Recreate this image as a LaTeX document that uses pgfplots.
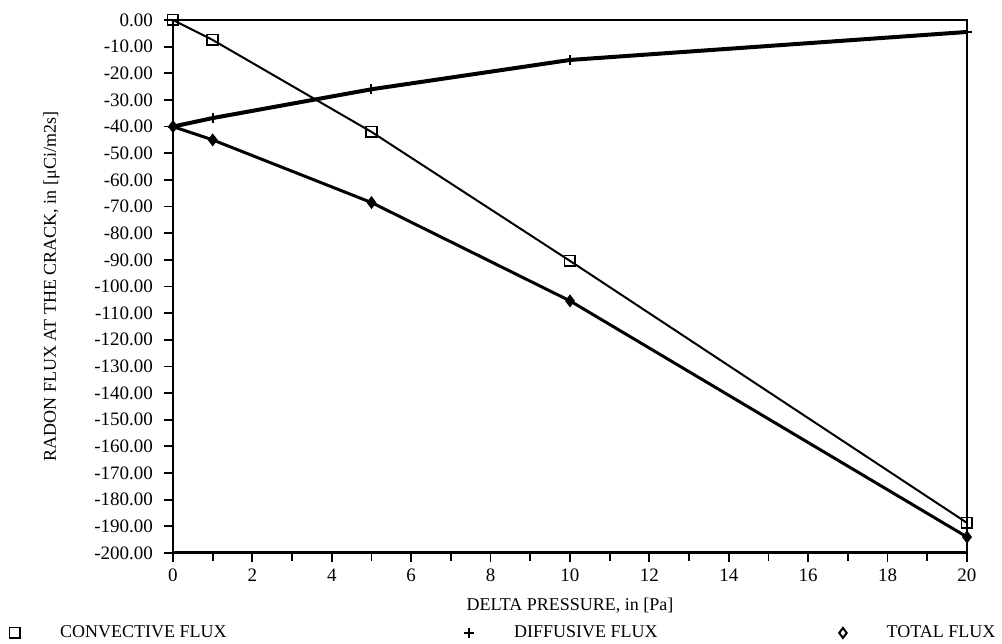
\documentclass[border=0pt]{standalone}
\usepackage{pgfplots}
\pgfplotsset{compat=1.18}
\usepackage{fontspec}
\setmainfont{Liberation Serif}
\begin{document}
\begin{tikzpicture}
\begin{axis}[
    name=ax, scale only axis,
    width=397pt, height=266.5pt,
    xmin=0, xmax=20, ymin=-200, ymax=0,
    xtick={0,2,...,20}, minor xtick={1,3,...,19},
    ytick={-200,-190,...,0},
    tick align=outside, tick pos=left,
    major tick length=4.5pt, minor tick length=4pt,
    every tick/.style={black, line width=0.9pt},
    /pgf/number format/assume math mode=true,
    yticklabel style={/pgf/number format/fixed, /pgf/number format/precision=2,
        /pgf/number format/fixed zerofill, xshift=-2pt},
    ticklabel style={font=\fontsize{9.5}{11}\selectfont},
    axis line style={line width=0.6pt},
    xlabel={DELTA PRESSURE, in [Pa]},
    ylabel={RADON FLUX AT THE CRACK, in [μCi/m2s]},
    label style={font=\fontsize{9}{10}\selectfont},
    xlabel style={at={(axis description cs:0.5,-0.099)}, anchor=center},
    ylabel style={at={(axis description cs:-0.153,0.5)}, anchor=center},
    legend columns=3,
    legend image code/.code={\draw[#1] plot[only marks] coordinates {(0,0)};},
    legend style={draw=none, fill=none, inner sep=0pt, anchor=west,
        at={(axis description cs:-0.2065,-0.150)},
        font=\fontsize{9}{10}\selectfont,
        nodes={inner sep=0pt},
        /tikz/every odd column/.append style={column sep=20pt}},
]
\addplot[line width=1pt, mark=square, mark size=2.7pt,
    mark options={line width=0.9pt, fill=white}] coordinates {
(0,0) (1,-7.5) (5,-42) (10,-90.4) (20,-188.7)
};
\addlegendentry{\makebox[202pt][l]{CONVECTIVE FLUX}}
\addplot[line width=2pt, mark=+, mark size=2.5pt,
    mark options={line width=1pt}] coordinates {
(0,-40) (1,-36.8) (5,-26) (10,-15) (20,-4.5)
};
\addlegendentry{\makebox[162.5pt][l]{DIFFUSIVE FLUX}}
\addplot[line width=1.5pt, mark=diamond*, mark size=2.8pt,
    mark options={line width=0.6pt},
    legend image post style={mark=diamond, mark size=2.5pt,
        mark options={line width=1pt, fill=white}}] coordinates {
(0,-40) (1,-45) (5,-68.5) (10,-105.4) (20,-194)
};
\addlegendentry{TOTAL FLUX}
\draw[line width=1.5pt] (rel axis cs:0,1) -- (rel axis cs:1,1);
\draw[line width=1.5pt] (rel axis cs:0,0) -- (rel axis cs:1,0);
\end{axis}
\path ([shift={(-86.5pt,-45.5pt)}]ax.south west) rectangle ([shift={(17.5pt,10pt)}]ax.north east);
\end{tikzpicture}
\end{document}
